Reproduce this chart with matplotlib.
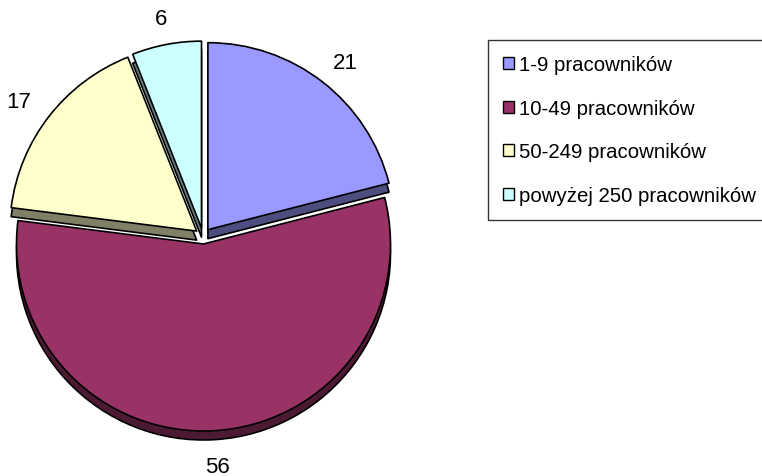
import numpy as np
import matplotlib
matplotlib.use("Agg")
import matplotlib.pyplot as plt
from matplotlib.patches import Wedge, Patch

categories = ["1-9 pracowników", "10-49 pracowników", "50-249 pracowników", "powyżej 250 pracowników"]
values = [21, 56, 17, 6]
top_colors = ["#9999FF", "#993366", "#FFFFCC", "#CCFFFF"]
side_colors = ["#4D4D80", "#4D1A33", "#808066", "#668080"]

plt.rcParams['font.family'] = ['Liberation Sans', 'DejaVu Sans']

W, H = 762, 477
fig = plt.figure(figsize=(W / 100, H / 100), dpi=100)
ax = fig.add_axes([0, 0, 1, 1])
ax.set_xlim(0, W)
ax.set_ylim(0, H)
ax.axis('off')

cx, cy = 203, H - 237
R = 187
explode = 8
depth = 9
gap = 27

total = float(sum(values))
start = 90.0
geo = []
for v in values:
    sweep = 360.0 * v / total
    t1, t2 = start - sweep, start
    mid = np.deg2rad((t1 + t2) / 2)
    ox, oy = cx + explode * np.cos(mid), cy + explode * np.sin(mid)
    geo.append((t1, t2, mid, ox, oy))
    start = t1

# sides (depth)
for (t1, t2, mid, ox, oy), sc in zip(geo, side_colors):
    ax.add_patch(Wedge((ox, oy - depth), R, t1, t2, facecolor=sc,
                       edgecolor='black', linewidth=1.2, joinstyle='round'))
# tops
for (t1, t2, mid, ox, oy), tc in zip(geo, top_colors):
    ax.add_patch(Wedge((ox, oy), R, t1, t2, facecolor=tc,
                       edgecolor='black', linewidth=1.2, joinstyle='round'))

# value labels, placed just outside each slice
renderer = fig.canvas.get_renderer()
for (t1, t2, mid, ox, oy), v in zip(geo, values):
    t = ax.text(0, 0, str(v), ha='center', va='center', fontsize=16, color='black')
    bb = t.get_window_extent(renderer=renderer)
    w, h = bb.width, bb.height
    c, s = np.cos(mid), np.sin(mid)
    px = cx + (R + gap) * c + 0.75 * w * c
    py = cy + (R + gap) * s + 0.5 * h * s + 0.3 * depth * min(0.0, s) - 3.5
    t.set_position((px, py))

handles = [Patch(facecolor=c, edgecolor='black', linewidth=1.0) for c in top_colors]
leg = fig.legend(handles, categories, loc='upper left',
                 bbox_to_anchor=(488 / W, 1 - 41 / H), borderaxespad=0,
                 frameon=True, fancybox=False, fontsize=14.7,
                 handlelength=0.52, handleheight=0.52, handletextpad=0.25,
                 labelspacing=1.2, borderpad=0.75)
leg.get_frame().set_edgecolor('black')
leg.get_frame().set_linewidth(1.0)

fig.savefig('out.png', dpi=100)
